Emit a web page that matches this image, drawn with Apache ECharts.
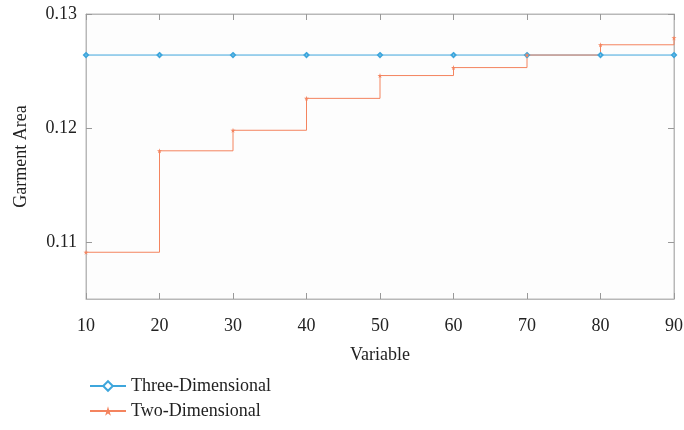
<!DOCTYPE html>
<html>
<head>
<meta charset="utf-8">
<script src="https://cdn.jsdelivr.net/npm/echarts@6/dist/echarts.min.js"></script>
<style>
  html, body { margin: 0; padding: 0; background: #fff; }
  #chart { width: 684px; height: 430px; }
</style>
</head>
<body>
<div id="chart"></div>
<script>
// x positions (Variable)
const variable = [10, 20, 30, 40, 50, 60, 70, 80, 90];
// garment area values
const threeDim = [0.1264, 0.1264, 0.1264, 0.1264, 0.1264, 0.1264, 0.1264, 0.1264, 0.1264];
const twoDim = [0.1091, 0.1180, 0.1198, 0.1226, 0.1246, 0.1253, 0.1264, 0.1273, 0.1279];
const yTicks = [0.11, 0.12, 0.13];

const FONT = 'Liberation Serif';
const BLUE = '#3ea6dc';
const ORANGE = '#f4845f';
const STAR = 'path://M50,0 L61,35 L98,35 L68,57 L79,91 L50,70 L21,91 L32,57 L2,35 L39,35 Z';

const chart = echarts.init(document.getElementById('chart'));

const pairs = (ys) => variable.map((x, i) => [x, ys[i]]);

const option = {
    animation: false,
    grid: {
        left: 86, right: 10, top: 14, bottom: 131,
        outerBoundsMode: 'none',
        show: true, borderColor: '#b8b8b8', borderWidth: 1,
        backgroundColor: '#fdfdfd'
    },
    legend: {
        orient: 'vertical',
        left: 84, top: 372,
        itemWidth: 36, itemHeight: 12, itemGap: 7,
        textStyle: { fontFamily: FONT, fontSize: 18, color: '#222' },
        data: ['Three-Dimensional', 'Two-Dimensional']
    },
    xAxis: [{
        type: 'value', min: 10, max: 90, interval: 10,
        name: 'Variable', nameLocation: 'middle', nameGap: 47,
        nameTextStyle: { fontFamily: FONT, fontSize: 18, color: '#222' },
        axisLine: { lineStyle: { color: '#b8b8b8' } },
        axisTick: { inside: true, length: 6, lineStyle: { color: '#999' } },
        axisLabel: { fontFamily: FONT, fontSize: 18, color: '#222', margin: 18 },
        splitLine: { show: false }
    }, {
        type: 'value', min: 10, max: 90, interval: 10, position: 'top',
        axisLine: { lineStyle: { color: '#b8b8b8' } },
        axisTick: { inside: true, length: 6, lineStyle: { color: '#999' } },
        axisLabel: { show: false },
        splitLine: { show: false }
    }],
    yAxis: [{
        type: 'value', min: 0.105, max: 0.13,
        name: 'Garment Area', nameLocation: 'middle', nameGap: 56,
        nameTextStyle: { fontFamily: FONT, fontSize: 18, color: '#222' },
        axisLine: { show: true, lineStyle: { color: '#b8b8b8' } },
        axisTick: { show: true, inside: true, length: 6, customValues: yTicks, lineStyle: { color: '#999' } },
        axisLabel: { fontFamily: FONT, fontSize: 18, color: '#222', margin: 9, customValues: yTicks,
            formatter: (v) => v.toFixed(2) },
        splitLine: { show: false }
    }, {
        type: 'value', min: 0.105, max: 0.13, position: 'right',
        axisLine: { show: true, lineStyle: { color: '#b8b8b8' } },
        axisTick: { show: true, inside: true, length: 6, customValues: yTicks, lineStyle: { color: '#999' } },
        axisLabel: { show: false },
        splitLine: { show: false }
    }],
    series: [{
        name: 'Three-Dimensional',
        type: 'line',
        step: 'end',
        data: pairs(threeDim),
        symbol: 'emptyDiamond',
        symbolSize: 4,
        lineStyle: { color: BLUE, width: 1 },
        itemStyle: { color: BLUE, borderColor: BLUE }
    }, {
        name: 'Two-Dimensional',
        type: 'line',
        step: 'end',
        data: pairs(twoDim),
        symbol: STAR,
        symbolSize: 5,
        lineStyle: { color: ORANGE, width: 1 },
        itemStyle: { color: ORANGE }
    }]
};

chart.setOption(option);
</script>
</body>
</html>
